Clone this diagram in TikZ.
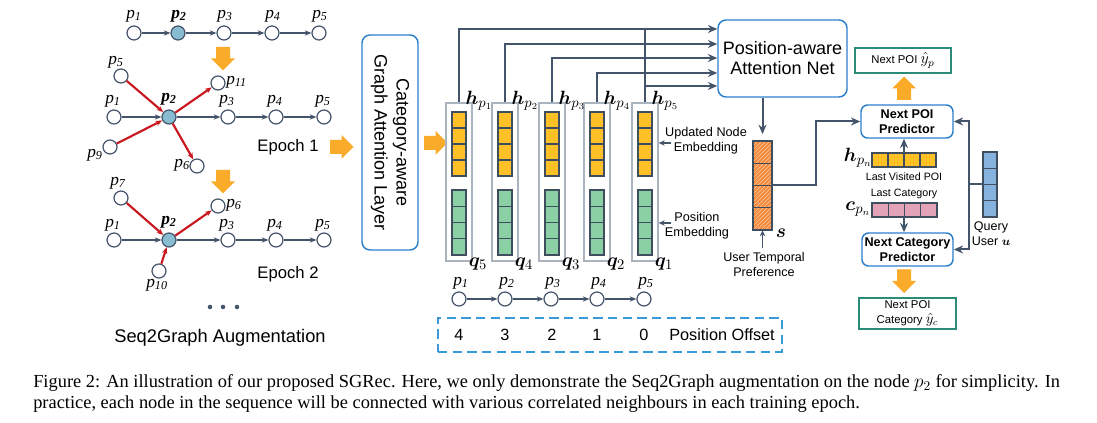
\documentclass[tikz,border=0pt]{standalone}
\usepackage{fontspec}
\setmainfont{Liberation Sans}
\newfontfamily\serif{Liberation Serif}
\usepackage{bm}
\usetikzlibrary{arrows.meta,patterns,calc}
\definecolor{nblue}{HTML}{44546A}
\definecolor{nfill}{HTML}{88BCD0}
\definecolor{red1}{HTML}{C8171E}
\definecolor{orng}{HTML}{FBAB2A}
\definecolor{yel}{HTML}{FFC125}
\definecolor{grn}{HTML}{8BD0A4}
\definecolor{sorg}{HTML}{F58A3C}
\definecolor{pnk}{HTML}{E2A3B8}
\definecolor{qblu}{HTML}{86B2DE}
\definecolor{bboxc}{HTML}{2D7FCC}
\definecolor{tealb}{HTML}{2A8C78}
\definecolor{dashb}{HTML}{3A9AD9}
\definecolor{cellb}{HTML}{3F4E5E}
\definecolor{frameg}{HTML}{A9B4BF}
\newcommand\pl[1]{{\serif\itshape p\textsubscript{#1}}}
\newcommand\pb[1]{{\serif\bfseries\itshape p\textsubscript{#1}}}
\begin{document}
\begin{tikzpicture}[x=0.75pt,y=-0.75pt,
 gnode/.style={circle,draw=nblue,fill=white,line width=0.9pt,minimum size=10.5pt,inner sep=0pt},
 gfill/.style={gnode,fill=nfill},
 bedge/.style={draw=nblue,line width=1.6pt,-{Stealth[length=5pt,width=4pt]}},
 redge/.style={draw=red1,line width=1.6pt,-{Stealth[length=5pt,width=4pt]}},
 glab/.style={font=\fontsize{13}{13}\selectfont,inner sep=0pt},
 conn/.style={draw=nblue,line width=1.5pt},
 carrow/.style={conn,-{Stealth[length=7pt,width=6pt]}},
 sarrow/.style={draw=nblue,line width=1pt,-{Stealth[length=4.5pt,width=4pt]}},
 cell/.style={draw=cellb,line width=0.8pt},
 colframe/.style={draw=frameg,line width=1pt,minimum width=19.5pt,minimum height=118.5pt,inner sep=0pt},
 bbox/.style={draw=bboxc,line width=1.1pt,rounded corners=6pt,fill=white,inner sep=0pt},
 tbox/.style={draw=tealb,line width=1.1pt,fill=white,inner sep=0pt},
 vlab/.style={font=\fontsize{15}{15}\selectfont,inner sep=0pt},
 dnarr/.pic={\fill[orng] (-7,-11.5)--(7,-11.5)--(7,0)--(12,0)--(0,12)--(-12,0)--(-7,0)--cycle;},
 uparr/.pic={\fill[orng] (-7,11.5)--(7,11.5)--(7,0)--(12,0)--(0,-12)--(-12,0)--(-7,0)--cycle;},
 rtarr/.pic={\fill[orng] (-11.5,-7)--(0,-7)--(0,-12)--(12,0)--(0,12)--(0,7)--(-11.5,7)--cycle;}
]
\useasboundingbox (0,0) rectangle (1097,423);

% ---------- Seq2Graph part ----------
% row 0
\node[gnode] (a1) at (134,33) {};
\node[gfill] (a2) at (178,33) {};
\node[gnode] (a3) at (224,33) {};
\node[gnode] (a4) at (272,33) {};
\node[gnode] (a5) at (319,33) {};
\node[glab] (la1) at (134,16) {\pl{1}};
\node[glab] (la2) at (179,16) {\pb{2}};
\node[glab] (la3) at (225,16) {\pl{3}};
\node[glab] (la4) at (273,16) {\pl{4}};
\node[glab] (la5) at (320,16) {\pl{5}};
\draw[bedge] (a1) -- (a2);
\draw[bedge] (a2) -- (a3);
\draw[bedge] (a3) -- (a4);
\draw[bedge] (a4) -- (a5);
\pic (d1) at (223,58.5) {dnarr};

% row 1
\node[gnode] (r1) at (114,117) {};
\node[gfill] (r2) at (169,117) {};
\node[gnode] (r3) at (228,117) {};
\node[gnode] (r4) at (276,117) {};
\node[gnode] (r5) at (324,117) {};
\node[gnode] (x5) at (121,76) {};
\node[gnode] (x11) at (218,83) {};
\node[gnode] (x9) at (110,147) {};
\node[gnode] (x6) at (197,166) {};
\node[glab] (lx5) at (116,62) {\pl{5}};
\node[glab,anchor=west] (lx11) at (226,82) {\pl{11}};
\node[glab] (lx9) at (95,155) {\pl{9}};
\node[glab,anchor=east] (lx6) at (190,165) {\pl{6}};
\node[glab] (lr1) at (113,101) {\pl{1}};
\node[glab] (lr2) at (169,99) {\pb{2}};
\node[glab] (lr3) at (227,101) {\pl{3}};
\node[glab] (lr4) at (275,101) {\pl{4}};
\node[glab] (lr5) at (323,101) {\pl{5}};
\draw[bedge] (r1) -- (r2);
\draw[bedge] (r2) -- (r3);
\draw[bedge] (r3) -- (r4);
\draw[bedge] (r4) -- (r5);
\draw[redge] (x5) -- (r2);
\draw[redge] (x9) -- (r2);
\draw[redge] (r2) -- (x11);
\draw[redge] (r2) -- (x6);
\node[font=\fontsize{12.5}{15}\selectfont] (ep1) at (288,147) {Epoch 1};
\pic (d2) at (223,181.5) {dnarr};

% row 2
\node[gnode] (s1) at (114,240) {};
\node[gfill] (s2) at (169,240) {};
\node[gnode] (s3) at (228,240) {};
\node[gnode] (s4) at (276,240) {};
\node[gnode] (s5) at (324,240) {};
\node[gnode] (x7) at (121,198) {};
\node[gnode] (x6b) at (218,206) {};
\node[gnode] (x10) at (159,271) {};
\node[glab] (lx7) at (118,183) {\pl{7}};
\node[glab,anchor=west] (lx6b) at (226,205) {\pl{6}};
\node[glab] (lx10) at (157,285) {\pl{10}};
\node[glab] (ls1) at (113,225) {\pl{1}};
\node[glab] (ls2) at (169,222) {\pb{2}};
\node[glab] (ls3) at (227,225) {\pl{3}};
\node[glab] (ls4) at (275,225) {\pl{4}};
\node[glab] (ls5) at (323,225) {\pl{5}};
\draw[bedge] (s1) -- (s2);
\draw[bedge] (s2) -- (s3);
\draw[bedge] (s3) -- (s4);
\draw[bedge] (s4) -- (s5);
\draw[redge] (x7) -- (s2);
\draw[redge] (x10) -- (s2);
\draw[redge] (s2) -- (x6b);
\node[font=\fontsize{12.5}{15}\selectfont] (ep2) at (288,274) {Epoch 2};
\fill[nblue] (210,307) circle (1.7pt) (223,307) circle (1.7pt) (237,307) circle (1.7pt);
\node[font=\fontsize{13.7}{16}\selectfont] (sga) at (220,338) {Seq2Graph Augmentation};
\pic (r1a) at (341.5,147) {rtarr};

% ---------- GAT layer ----------
\node[bbox,minimum width=42pt,minimum height=161.25pt] (gat) at (390,142.5) {};
\node[rotate=-90,align=center,font=\fontsize{13.5}{16.5}\selectfont] (gatt) at (gat.center) {Category-aware\\Graph Attention Layer};
\pic (r2a) at (435.5,143) {rtarr};

% ---------- columns ----------
\foreach \L [count=\i] in {446,492,539,584,632} {
  \node[colframe] (c\i) at (\L+13,182) {};
  \foreach \k in {0,...,3} {
    \draw[cell,fill=yel] (\L+6,112+16*\k) rectangle ++(14,16);
    \draw[cell,fill=grn] (\L+6,190+16.25*\k) rectangle ++(14,16.25);
  }
}
\node[vlab] (h1) at (479,101) {$\bm{h}_{p_1}$};
\node[vlab] (h2) at (525,101) {$\bm{h}_{p_2}$};
\node[vlab] (h3) at (572,101) {$\bm{h}_{p_3}$};
\node[vlab] (h4) at (617,101) {$\bm{h}_{p_4}$};
\node[vlab] (h5) at (665,101) {$\bm{h}_{p_5}$};
\node[vlab] (q5) at (478,264) {$\bm{q}_{5}$};
\node[vlab] (q4) at (524,264) {$\bm{q}_{4}$};
\node[vlab] (q3) at (571,264) {$\bm{q}_{3}$};
\node[vlab] (q2) at (616,264) {$\bm{q}_{2}$};
\node[vlab] (q1) at (664,264) {$\bm{q}_{1}$};

% ---------- attention net ----------
\node[bbox,minimum width=96.75pt,minimum height=57.75pt,align=center,font=\fontsize{13.5}{15}\selectfont] (att) at (782.5,58.5) {Position-aware\\Attention Net};
\draw[carrow] (c1.north) |- (att.west |- 0,29);
\draw[carrow] (c2.north) |- (att.west |- 0,44);
\draw[carrow] (c3.north) |- (att.west |- 0,58);
\draw[carrow] (c4.north) |- (att.west |- 0,73);
\draw[conn] (c5.north) -- (c5.north |- 0,29);
\coordinate (j5) at (c5.north |- 0,86);
\draw[carrow] (j5) -- (att.west |- j5);

% labels for embeddings
\node[align=center,font=\fontsize{9.5}{11.25}\selectfont] (une) at (706,140.5) {Updated Node\\Embedding};
\coordinate (uneA) at (671,143);
\draw[sarrow] (uneA) -- (c5.east |- uneA);
\node[align=center,font=\fontsize{9.5}{11.25}\selectfont] (pe) at (697,225.5) {Position\\Embedding};
\coordinate (peA) at (671,223);
\draw[sarrow] (peA) -- (c5.east |- peA);

% ---------- s vector ----------
\fill[sorg] (753,141) rectangle (772,230);
\fill[pattern=north east lines,pattern color=white!55!sorg] (753,141) rectangle (772,230);
\foreach \k in {0,...,3} \draw[cell] (753,141+22.25*\k) rectangle ++(19,22.25);
\node[inner sep=0pt,minimum width=14.25pt,minimum height=66.75pt] (sv) at (762.5,185.5) {};
\node[vlab] (slab) at (781,233) {$\bm{s}$};
\draw[carrow,shorten >=5pt] (sv.north |- att.south) -- (sv.north);
\node[align=center,font=\fontsize{9.4}{11.25}\selectfont] (utp) at (764,264.5) {User Temporal\\Preference};
\draw[sarrow] (utp.north -| sv.south) -- (sv.south);

% ---------- right part ----------
\node[tbox,minimum width=72pt,minimum height=18.75pt,font=\fontsize{8.5}{10}\selectfont] (outp) at (903,60.5) {Next POI {\fontsize{12}{12}\selectfont$\hat{y}_p$}};
\pic (u1) at (904,88.5) {uparr};
\node[bbox,rounded corners=5pt,minimum width=69pt,minimum height=24.75pt,align=center,font=\bfseries\fontsize{9.5}{11.25}\selectfont] (poi) at (907,121.5) {Next POI\\Predictor};
\node[bbox,rounded corners=5pt,minimum width=68.25pt,minimum height=24.75pt,align=center,font=\bfseries\fontsize{9.5}{11.25}\selectfont] (cat) at (907.5,249.5) {Next Category\\Predictor};
\pic (d3) at (904,281) {dnarr};
\node[tbox,minimum width=72.75pt,minimum height=23.25pt,align=center,font=\fontsize{8.5}{11}\selectfont] (outc) at (907.5,313.5) {Next POI\\Category {\fontsize{10.5}{11}\selectfont$\hat{y}_c$}};

\foreach \k in {0,...,3} {
  \draw[cell,fill=yel] (872+16*\k,153) rectangle ++(16,14);
  \draw[cell,fill=pnk] (872+16.25*\k,203) rectangle ++(16.25,14);
  \draw[cell,fill=qblu] (983,152+16.25*\k) rectangle ++(14,16.25);
}
\node[inner sep=0pt,minimum width=48pt,minimum height=10.5pt] (hpn) at (904,160) {};
\node[inner sep=0pt,minimum width=48.75pt,minimum height=10.5pt] (cpn) at (904.5,210) {};
\node[inner sep=0pt,minimum width=10.5pt,minimum height=48.75pt] (quv) at (990,184.5) {};
\node[vlab] (hpnl) at (858,158) {$\bm{h}_{p_n}$};
\node[vlab] (cpnl) at (858,209) {$\bm{c}_{p_n}$};
\node[font=\fontsize{8}{9}\selectfont] (lvp) at (904,177) {Last Visited POI};
\node[font=\fontsize{8}{9}\selectfont] (lct) at (904,194) {Last Category};
\draw[carrow] (hpn.north) -- (hpn.north |- poi.south);
\draw[carrow] (cpn.south -| hpn.north) -- (hpn.north |- cat.north);

\coordinate (qj) at (969,184.5);
\draw[conn] (quv.west) -- (qj);
\draw[carrow] (qj) |- (poi.east);
\draw[carrow] (qj) |- (cat.east);
\node[align=center,font=\fontsize{9.4}{11.25}\selectfont] (qu) at (991,233.5) {Query\\User $\bm{u}$};

\draw[carrow] (sv.east) -- ++(44,0) |- (poi.west);

% ---------- bottom sequence ----------
\node[gnode] (t1) at (459,299) {};
\node[gnode] (t2) at (505,299) {};
\node[gnode] (t3) at (551,299) {};
\node[gnode] (t4) at (597,299) {};
\node[gnode] (t5) at (644,299) {};
\node[glab] (lt1) at (461,283) {\pl{1}};
\node[glab] (lt2) at (507,283) {\pl{2}};
\node[glab] (lt3) at (553,283) {\pl{3}};
\node[glab] (lt4) at (599,283) {\pl{4}};
\node[glab] (lt5) at (646,283) {\pl{5}};
\draw[bedge] (t1) -- (t2);
\draw[bedge] (t2) -- (t3);
\draw[bedge] (t3) -- (t4);
\draw[bedge] (t4) -- (t5);

\node[draw=dashb,dashed,dash pattern=on 7pt off 4pt,line width=1.5pt,minimum width=258pt,minimum height=25.5pt,inner sep=0pt] (pob) at (610,335) {};
\node[font=\fontsize{12.2}{14}\selectfont] (o4) at (459,335) {4};
\node[font=\fontsize{12.2}{14}\selectfont] (o3) at (505,335) {3};
\node[font=\fontsize{12.2}{14}\selectfont] (o2) at (552,335) {2};
\node[font=\fontsize{12.2}{14}\selectfont] (o1) at (597,335) {1};
\node[font=\fontsize{12.2}{14}\selectfont] (o0) at (644,335) {0};
\node[font=\fontsize{12.2}{14}\selectfont] (pol) at (722,335) {Position Offset};

% ---------- caption ----------
\node[anchor=base west,inner sep=0pt,font=\serif\fontsize{13.8}{16}\selectfont] (cap1) at (33,388) {Figure 2: An illustration of our proposed SGRec. Here, we only demonstrate the Seq2Graph augmentation on the node $p_2$ for simplicity. In};
\node[anchor=base west,inner sep=0pt,font=\serif\fontsize{13.8}{16}\selectfont] (cap2) at (33,409) {practice, each node in the sequence will be connected with various correlated neighbours in each training epoch.};
\end{tikzpicture}
\end{document}
